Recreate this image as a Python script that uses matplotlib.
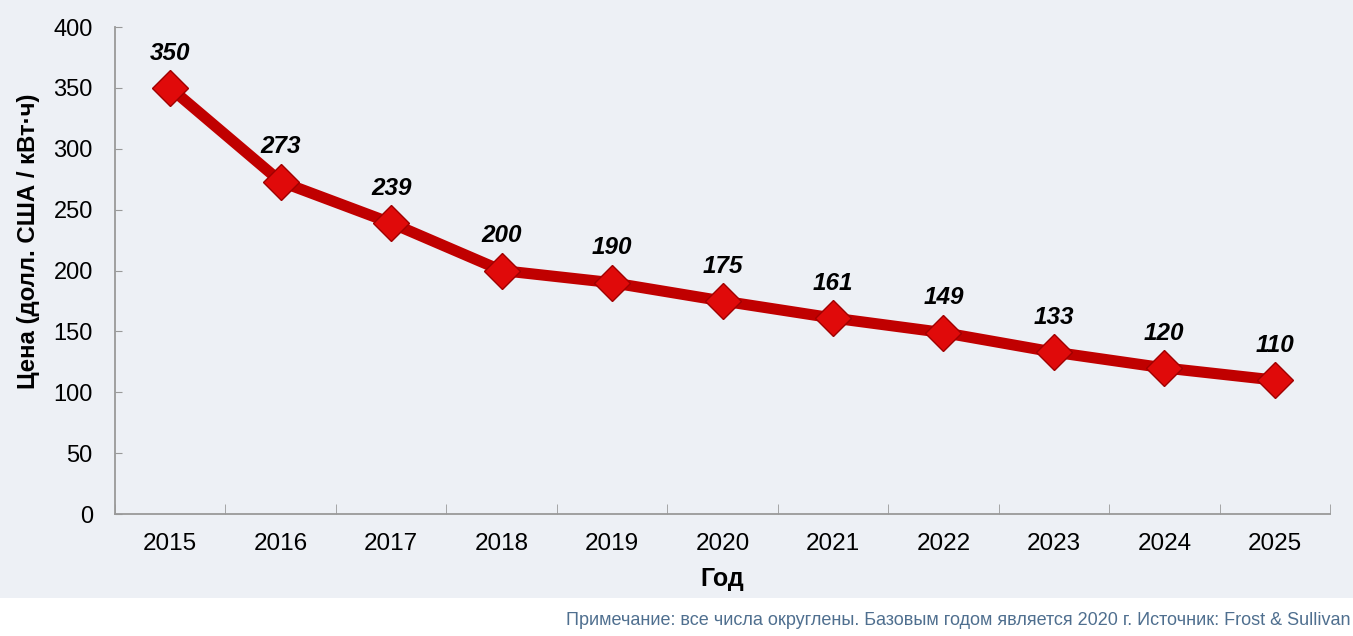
import matplotlib
matplotlib.use('Agg')
import matplotlib.pyplot as plt
from matplotlib.patches import Rectangle

years = ['2015', '2016', '2017', '2018', '2019', '2020', '2021', '2022', '2023', '2024', '2025']
prices = [350, 273, 239, 200, 190, 175, 161, 149, 133, 120, 110]
yticks = [0, 50, 100, 150, 200, 250, 300, 350, 400]

plt.rcParams['font.family'] = ['Liberation Sans', 'DejaVu Sans']

bg = '#edf0f5'
fig = plt.figure(figsize=(13.53, 6.36), dpi=100, facecolor=bg)
# белая полоса снизу под примечание
fig.patches.append(Rectangle((0, 0), 1, 0.06, transform=fig.transFigure,
                             facecolor='white', edgecolor='none', zorder=-10))

ax = fig.add_axes([0.085, 0.1918, 0.898, 0.7657])
ax.set_facecolor(bg)

x = list(range(len(years)))
ax.plot(x, prices, color='#c00000', lw=8, solid_capstyle='round', zorder=2)
ax.plot(x, prices, ls='none', marker='D', markersize=18, markerfacecolor='#e00a0a',
        markeredgecolor='#a00000', markeredgewidth=1, zorder=3)

for xi, v in zip(x, prices):
    ax.annotate(str(v), (xi, v), xytext=(0, 25), textcoords='offset points',
                ha='center', va='center', fontsize=17.5, fontweight='bold',
                fontstyle='italic', color='black')

ax.set_xlim(-0.5, len(years) - 0.5)
ax.set_ylim(0, 400)
ax.set_yticks(yticks)
ax.set_xticks(x)
ax.set_xticklabels(years)
ax.set_xticks([i + 0.5 for i in range(-1, len(years))], minor=True)

ax.tick_params(axis='y', direction='in', length=5, color='#999999', labelsize=17, pad=16)
ax.tick_params(axis='x', which='major', length=0, labelsize=17.5, pad=14)
ax.tick_params(axis='x', which='minor', direction='in', length=7, color='#999999')

for s in ['top', 'right']:
    ax.spines[s].set_visible(False)
for s in ['left', 'bottom']:
    ax.spines[s].set_color('#999999')
    ax.spines[s].set_linewidth(1.3)

ax.set_ylabel('Цена (долл. США / кВт·ч)', fontsize=17.3, fontweight='bold', va='center')
ax.yaxis.set_label_coords(-0.0715, 0.56)
ax.set_xlabel('Год', fontsize=18, fontweight='bold', labelpad=8)

fig.text(0.998, 0.025, 'Примечание: все числа округлены. Базовым годом является 2020 г. Источник: Frost & Sullivan',
         ha='right', va='center', fontsize=13, color='#4f6f8f')

fig.savefig('out.png', dpi=100, facecolor=fig.get_facecolor())
